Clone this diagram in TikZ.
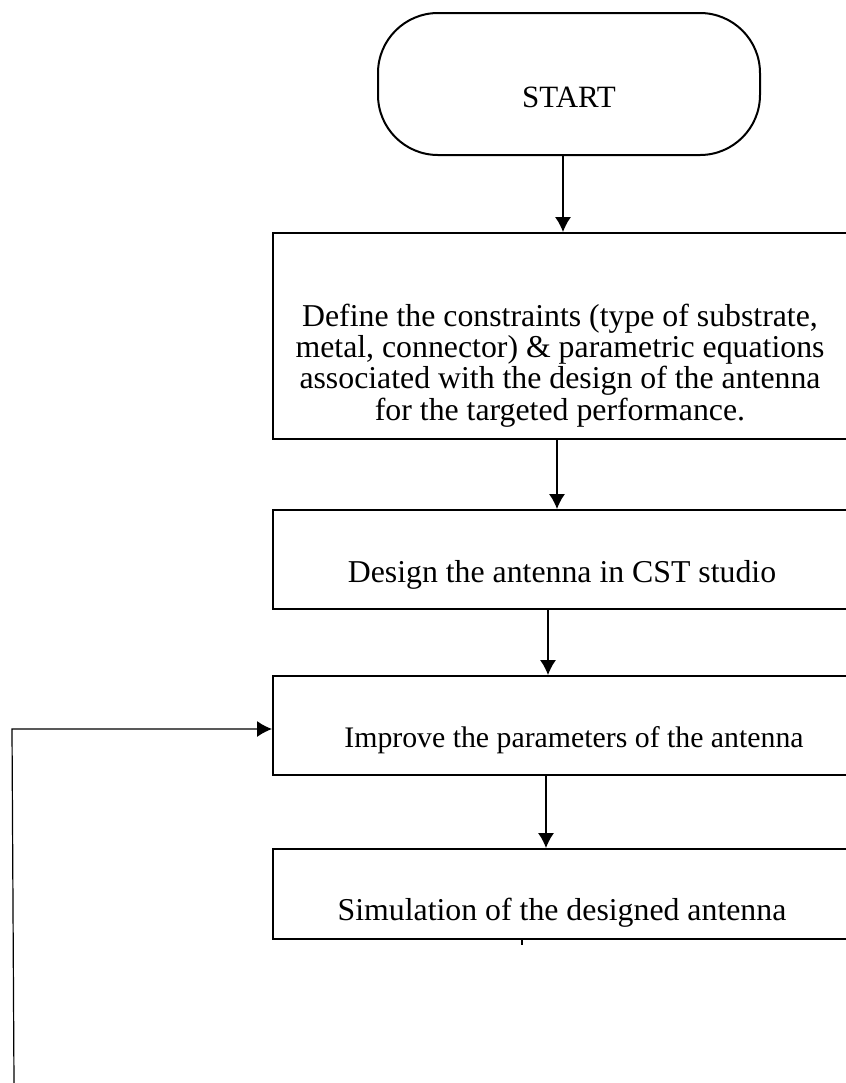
\documentclass[tikz,border=0pt]{standalone}
\usepackage{fontspec}
\setmainfont{Liberation Serif}
\usetikzlibrary{arrows.meta,positioning}
\tikzset{
block/.style = {draw, line width=1pt, rectangle, minimum width=314pt, anchor=north west, inner sep=0pt},
startstop/.style = {draw, line width=1pt, rectangle, rounded corners=30pt, minimum width=191pt, minimum height=71pt, inner sep=0pt},
txt/.style = {font=\fontsize{15.9}{15.6}\selectfont, align=center, inner sep=0pt, anchor=base},
line/.style = {line width=0.6pt}
}

\begin{document}
\begin{tikzpicture}[x=0.5pt, y=-0.5pt, >={Latex[length=7.5pt,width=8pt]}]
    \path [use as bounding box, clip] (0,0) rectangle (846,1083);
    \node [startstop] (start) at (569,84) {};
    \node [block, minimum height=103pt] (define) at (272,232) {};
    \node [block, minimum height=49.5pt] (design) at (272,509) {};
    \node [block, minimum height=49.5pt] (improve) at (272,675) {};
    \node [block, minimum height=45pt] (simul) at (272,848) {};
    % texts
    \node [txt, font=\fontsize{15.5}{15.5}\selectfont] (startTxt) at (569,107) {START};
    \node [txt] (defineTxt) at (560,420) {Define the constraints (type of substrate,\\
        metal, connector) \& parametric equations\\
        associated with the design of the antenna\\
        for the targeted performance.};
    \node [txt] (designTxt) at (562,582) {Design the antenna in CST studio};
    \node [txt, font=\fontsize{14.9}{15.5}\selectfont] (improveTxt) at (574,747) {Improve the parameters of the antenna};
    \node [txt] (simulTxt) at (562,920) {Simulation of the designed antenna};
    % arrows
    \coordinate (loop) at (14,1083);
    \draw [line, ->] (start.south -| 563,0) -- (define.north -| 563,0);
    \draw [line, ->] (define.south -| 557,0) -- (design.north -| 557,0);
    \draw [line, ->] (design.south -| 548,0) -- (improve.north -| 548,0);
    \draw [line, ->] (improve.south -| 546,0) -- (simul.north -| 546,0);
    \draw [line] (simul.south -| 522,0) -- ++(0,5);
    \draw [line, ->] (loop) -- (12,729) -- (improve.west |- 0,729);
\end{tikzpicture}
\end{document}
